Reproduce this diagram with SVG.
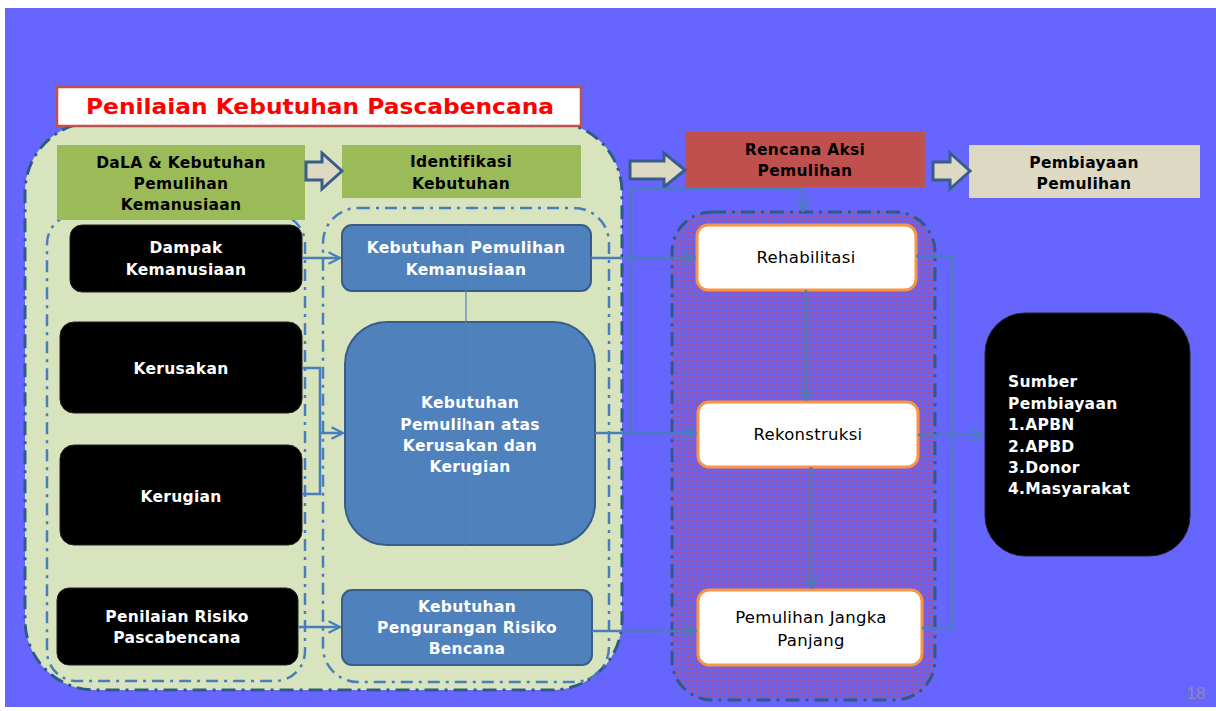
<svg xmlns="http://www.w3.org/2000/svg" width="1216" height="711" viewBox="0 0 1216 711">
<defs>
<style>
.t{font-family:"DejaVu Sans","Liberation Sans",Arial,sans-serif;font-weight:bold;font-size:15.5px;text-anchor:middle;letter-spacing:0.3px}
.n{font-weight:normal;font-size:16.5px}
.w{fill:#ffffff}
.k{fill:#000000}
.blk{fill:#000000;stroke:#222;stroke-width:1}
.bl{fill:#4F81BD;stroke:#385D8A;stroke-width:2}
.gr{fill:#9BBB59}
.wt{fill:#ffffff;stroke:#F79646;stroke-width:3}
.dd{fill:none;stroke:#4A7EBB;stroke-width:2.5;stroke-dasharray:12 6 3 6}
.dd2{stroke:#2E5A88;stroke-width:3;stroke-dasharray:14 6 3 6}
.ba{fill:#DDD9C3;stroke:#385D8A;stroke-width:3}
.c{fill:none;stroke:#4A7EBB;stroke-width:2.5}
</style>
<marker id="ah" viewBox="0 0 12 12" refX="11" refY="6" markerWidth="5.5" markerHeight="5.5" orient="auto" markerUnits="strokeWidth">
<path d="M1,1 L11,6 L1,11" fill="none" stroke="#4A7EBB" stroke-width="2"/>
</marker>
<pattern id="pp" width="4" height="4" patternUnits="userSpaceOnUse">
<rect width="4" height="4" fill="#6A63F2"/>
<rect x="0" y="0" width="2" height="2" fill="#B0507E"/>
</pattern>
</defs>
<rect x="0" y="0" width="1216" height="711" fill="#ffffff"/>
<rect x="5" y="8" width="1211" height="699" fill="#6666FF"/>

<g id="green-container">
<rect x="25" y="122" width="597" height="568" rx="70" fill="#D7E4BD" class="dd2"/>
<rect x="47" y="214" width="258" height="467" rx="30" class="dd"/>
<rect x="323" y="208" width="286" height="474" rx="35" class="dd"/>
</g>

<g id="purple-container">
<rect x="672" y="212" width="263" height="488" rx="40" fill="url(#pp)" class="dd2"/>
</g>

<g id="title">
<rect x="57" y="87" width="524" height="39" fill="#ffffff" stroke="#C0504D" stroke-width="2.5"/>
<text x="320" y="114" class="t" style="font-size:21px;fill:#FF0000;letter-spacing:0" textLength="468" lengthAdjust="spacingAndGlyphs">Penilaian Kebutuhan Pascabencana</text>
</g>

<g id="dala">
<rect x="57" y="145" width="248" height="75" class="gr"/>
<text x="181" y="168" class="t k">DaLA &amp;  Kebutuhan</text>
<text x="181" y="189" class="t k">Pemulihan</text>
<text x="181" y="210" class="t k">Kemanusiaan</text>
</g>

<g id="identifikasi">
<rect x="342" y="145" width="239" height="53" class="gr"/>
<text x="461" y="167" class="t k">Identifikasi</text>
<text x="461" y="189" class="t k">Kebutuhan</text>
</g>

<g id="rencana">
<rect x="686" y="132" width="239" height="55" fill="#C0504D"/>
<text x="805" y="155" class="t k">Rencana Aksi</text>
<text x="805" y="176" class="t k">Pemulihan</text>
</g>

<g id="pembiayaan">
<rect x="969" y="145" width="231" height="53" fill="#DDD9C3"/>
<text x="1084" y="168" class="t k">Pembiayaan</text>
<text x="1084" y="189" class="t k">Pemulihan</text>
</g>

<g id="block-arrows">
<path class="ba" d="M306,162 H322 V153 L342,171 L322,189 V180 H306 Z"/>
<path class="ba" d="M630,161 H664 V153 L685,170 L664,187 V179 H630 Z"/>
<path class="ba" d="M933,162 H950 V153 L970,171 L950,189 V180 H933 Z"/>
</g>

<g id="dampak">
<rect x="70" y="225" width="232" height="67" rx="12" class="blk"/>
<text x="186" y="253" class="t w">Dampak</text>
<text x="186" y="275" class="t w">Kemanusiaan</text>
</g>
<g id="kerusakan">
<rect x="60" y="322" width="242" height="91" rx="14" class="blk"/>
<text x="181" y="374" class="t w">Kerusakan</text>
</g>
<g id="kerugian">
<rect x="60" y="445" width="242" height="100" rx="14" class="blk"/>
<text x="181" y="502" class="t w">Kerugian</text>
</g>
<g id="penilaian-risiko">
<rect x="57" y="588" width="241" height="77" rx="12" class="blk"/>
<text x="177" y="622" class="t w">Penilaian Risiko</text>
<text x="177" y="643" class="t w">Pascabencana</text>
</g>

<g id="kpk">
<rect x="342" y="225" width="249" height="66" rx="10" class="bl"/>
<text x="466" y="253" class="t w">Kebutuhan Pemulihan</text>
<text x="466" y="275" class="t w">Kemanusiaan</text>
</g>
<g id="kpkk">
<rect x="345" y="322" width="250" height="223" rx="42" class="bl"/>
<text x="470" y="408" class="t w">Kebutuhan</text>
<text x="470" y="430" class="t w">Pemulihan  atas</text>
<text x="470" y="451" class="t w">Kerusakan dan</text>
<text x="470" y="472" class="t w">Kerugian</text>
</g>
<g id="kprb">
<rect x="342" y="590" width="250" height="75" rx="10" class="bl"/>
<text x="467" y="612" class="t w">Kebutuhan</text>
<text x="467" y="633" class="t w">Pengurangan Risiko</text>
<text x="467" y="654" class="t w">Bencana</text>
</g>

<g id="rehabilitasi">
<rect x="697" y="225" width="219" height="65" rx="11" class="wt"/>
<text x="806" y="263" class="t n k">Rehabilitasi</text>
</g>
<g id="rekonstruksi">
<rect x="698" y="402" width="220" height="65" rx="11" class="wt"/>
<text x="808" y="440" class="t n k">Rekonstruksi</text>
</g>
<g id="pemulihan-jangka-panjang">
<rect x="698" y="590" width="224" height="75" rx="11" class="wt"/>
<text x="811" y="623" class="t n k">Pemulihan Jangka</text>
<text x="811" y="646" class="t n k">Panjang</text>
</g>

<g id="sumber">
<rect x="985" y="313" width="205" height="243" rx="40" class="blk"/>
<g class="t w" style="text-anchor:start">
<text x="1008" y="387">Sumber</text>
<text x="1008" y="409">Pembiayaan</text>
<text x="1008" y="430">1.APBN</text>
<text x="1008" y="452">2.APBD</text>
<text x="1008" y="473">3.Donor</text>
<text x="1008" y="494">4.Masyarakat</text>
</g>
</g>

<g id="connectors">
<line x1="466" y1="225" x2="466" y2="545" stroke="#4A7EBB" stroke-width="1.2"/>
<path class="c" d="M302,258 H340" marker-end="url(#ah)"/>
<path class="c" d="M302,368 H320 V494 H302"/>
<path class="c" d="M320,433 H343" marker-end="url(#ah)"/>
<path class="c" d="M298,627 H340" marker-end="url(#ah)"/>
<path class="c" d="M591,258 H695" marker-end="url(#ah)"/>
<path class="c" d="M595,433 H696" marker-end="url(#ah)"/>
<path class="c" d="M592,631 H696" marker-end="url(#ah)"/>
<path class="c" d="M631,433 V189 H803 V211" marker-end="url(#ah)"/>
<path class="c" d="M806,290 V400" marker-end="url(#ah)"/>
<path class="c" d="M811,467 V588" marker-end="url(#ah)"/>
<path class="c" d="M916,256 H952 V628 H922"/>
<path class="c" d="M918,435 H983" marker-end="url(#ah)"/>
</g>

<text x="1196" y="699" style="font-family:'Liberation Sans',Arial,sans-serif;font-size:17px;fill:#8A8AB0;text-anchor:middle">18</text>
</svg>
